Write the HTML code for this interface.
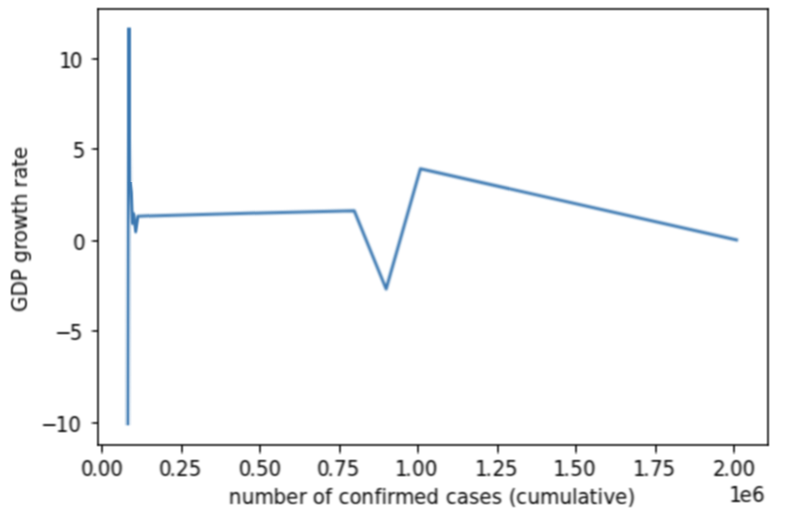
<!DOCTYPE html>
<html lang="en">
<head>
<meta charset="utf-8">
<title>GDP growth rate vs number of confirmed cases (cumulative)</title>
<style>
html,body{margin:0;padding:0;background:#fff;}
body{width:787px;height:524px;overflow:hidden;}
svg{display:block;}
text{font-family:"DejaVu Sans","Liberation Sans",sans-serif;font-size:22px;fill:#000000;}
</style>
</head>
<body>
<svg width="787" height="524" viewBox="0 0 787 524">
<defs>
<filter id="soft" filterUnits="userSpaceOnUse" x="0" y="0" width="787" height="524" color-interpolation-filters="sRGB"><feConvolveMatrix order="3" kernelMatrix="1 2 1 2 4 2 1 2 1" divisor="16" edgeMode="duplicate" preserveAlpha="false"/></filter>
<filter id="softline" filterUnits="userSpaceOnUse" x="0" y="0" width="787" height="524" color-interpolation-filters="sRGB"><feConvolveMatrix order="5" kernelMatrix="1 4 6 4 1 4 16 24 16 4 6 24 36 24 6 4 16 24 16 4 1 4 6 4 1" divisor="256" edgeMode="duplicate" preserveAlpha="false"/></filter>
<filter id="softv" filterUnits="userSpaceOnUse" x="0" y="0" width="787" height="524" color-interpolation-filters="sRGB"><feConvolveMatrix order="3 5" kernelMatrix="1 2 1 4 8 4 6 12 6 4 8 4 1 2 1" divisor="64" edgeMode="duplicate" preserveAlpha="false"/></filter>
<filter id="softtext" filterUnits="userSpaceOnUse" x="0" y="0" width="787" height="524" color-interpolation-filters="sRGB"><feConvolveMatrix order="5 3" kernelMatrix="1 4 6 4 1 2 8 12 8 2 1 4 6 4 1" divisor="64" edgeMode="duplicate" preserveAlpha="false"/></filter>
<filter id="softtextr" filterUnits="userSpaceOnUse" x="0" y="0" width="787" height="524" color-interpolation-filters="sRGB"><feConvolveMatrix order="3 5" kernelMatrix="1 2 1 4 8 4 6 12 6 4 8 4 1 2 1" divisor="64" edgeMode="duplicate" preserveAlpha="false"/></filter>
<clipPath id="axclip"><rect x="98" y="9" width="670" height="436"/></clipPath>
</defs>
<rect x="0" y="0" width="787" height="524" fill="#ffffff"/>
<clipPath id="lclip"><rect x="0" y="0" width="149" height="524"/></clipPath>
<clipPath id="rclip"><rect x="149" y="0" width="638" height="524"/></clipPath>
<g id="line" fill="none" stroke="#3b78b1" stroke-width="3" stroke-linejoin="round" stroke-linecap="square">
<linearGradient id="covl" gradientUnits="userSpaceOnUse" x1="0" y1="130" x2="0" y2="425"><stop offset="0" stop-color="#3b78b1" stop-opacity="0"/><stop offset="1" stop-color="#3b78b1" stop-opacity="0.33"/></linearGradient>
<linearGradient id="covr" gradientUnits="userSpaceOnUse" x1="0" y1="192" x2="0" y2="425"><stop offset="0.0000" stop-color="#3b78b1" stop-opacity="1"/><stop offset="0.0601" stop-color="#3b78b1" stop-opacity="0.64"/><stop offset="0.1030" stop-color="#3b78b1" stop-opacity="0.49"/><stop offset="0.1373" stop-color="#3b78b1" stop-opacity="0.4"/><stop offset="1.0000" stop-color="#3b78b1" stop-opacity="0.17"/></linearGradient>
<linearGradient id="covr2" gradientUnits="userSpaceOnUse" x1="0" y1="138" x2="0" y2="182"><stop offset="0" stop-color="#3b78b1" stop-opacity="0"/><stop offset="1" stop-color="#3b78b1" stop-opacity="0.15"/></linearGradient>
<clipPath id="cclip"><path clip-rule="evenodd" d="M0 0H149V524H0Z M0 0H133V182H0Z"/></clipPath>
<g id="spike" filter="url(#soft)" stroke="none">
<rect x="127" y="27.6" width="2" height="397.7" fill="#3b78b1"/>
<rect x="129" y="27.6" width="2" height="164.4" fill="#3b78b1"/>
<rect x="125" y="130" width="2" height="295.3" fill="url(#covl)"/>
<rect x="129" y="192" width="2" height="233.3" fill="url(#covr)"/>
<rect x="131" y="138" width="2" height="44" fill="url(#covr2)"/>
</g>
<polyline filter="url(#softv)" points="128.78,28.51 129.73,177.90 131.38,192.48 132.39,223.45 133.78,213.79 135.70,231.83 137.95,216.16 151.95,215.81" clip-path="url(#cclip)" stroke-linecap="butt"/>
<polyline filter="url(#softline)" points="145.95,215.96 354.19,210.69 386.14,289.03 420.37,168.79 736.56,239.84" clip-path="url(#rclip)"/>
</g>
<g id="frame" filter="url(#soft)">
<g id="spines" stroke="#000000" stroke-opacity="0.8" stroke-width="2" stroke-linecap="square">
<line x1="98" y1="9" x2="98" y2="445"/><line x1="768" y1="9" x2="768" y2="445"/><line x1="98" y1="445" x2="768" y2="445"/><line x1="98" y1="9" x2="768" y2="9"/>
</g>
<g id="xticks" fill="#000000">
<rect x="101" y="445" width="2" height="7" fill-opacity="0.8"/><rect x="101" y="452" width="2" height="2" fill-opacity="0.4"/>
<rect x="181" y="445" width="2" height="7" fill-opacity="0.8"/><rect x="181" y="452" width="2" height="2" fill-opacity="0.4"/>
<rect x="259" y="445" width="2" height="7" fill-opacity="0.8"/><rect x="259" y="452" width="2" height="2" fill-opacity="0.4"/>
<rect x="339" y="445" width="2" height="7" fill-opacity="0.8"/><rect x="339" y="452" width="2" height="2" fill-opacity="0.4"/>
<rect x="417" y="445" width="2" height="7" fill-opacity="0.8"/><rect x="417" y="452" width="2" height="2" fill-opacity="0.4"/>
<rect x="497" y="445" width="2" height="7" fill-opacity="0.8"/><rect x="497" y="452" width="2" height="2" fill-opacity="0.4"/>
<rect x="575" y="445" width="2" height="7" fill-opacity="0.8"/><rect x="575" y="452" width="2" height="2" fill-opacity="0.4"/>
<rect x="655" y="445" width="2" height="7" fill-opacity="0.8"/><rect x="655" y="452" width="2" height="2" fill-opacity="0.4"/>
<rect x="733" y="445" width="2" height="7" fill-opacity="0.8"/><rect x="733" y="452" width="2" height="2" fill-opacity="0.4"/>
</g>
<g id="yticks" fill="#000000">
<rect x="93" y="58" width="5" height="2" fill-opacity="0.8"/><rect x="91" y="58" width="2" height="2" fill-opacity="0.4"/>
<rect x="93" y="148" width="5" height="2" fill-opacity="0.8"/><rect x="91" y="148" width="2" height="2" fill-opacity="0.4"/>
<rect x="93" y="240" width="5" height="2" fill-opacity="0.8"/><rect x="91" y="240" width="2" height="2" fill-opacity="0.4"/>
<rect x="93" y="330" width="5" height="2" fill-opacity="0.8"/><rect x="91" y="330" width="2" height="2" fill-opacity="0.4"/>
<rect x="93" y="422" width="5" height="2" fill-opacity="0.8"/><rect x="91" y="422" width="2" height="2" fill-opacity="0.4"/>
</g>
</g>
<g id="labels" filter="url(#softtext)">
<g id="xticklabels">
<text transform="scale(0.909,1)" x="89.11 100.66 107.54 121.29" y="476">0.00</text>
<text transform="scale(0.909,1)" x="174.92 186.47 193.62 207.65" y="476">0.25</text>
<text transform="scale(0.909,1)" x="262.79 274.61 281.76 295.51" y="476">0.50</text>
<text transform="scale(0.909,1)" x="348.73 360.29 367.44 381.46" y="476">0.75</text>
<text transform="scale(0.909,1)" x="434.68 445.96 453.38 467.41" y="476">1.00</text>
<text transform="scale(0.909,1)" x="522.68 533.97 541.67 555.42" y="476">1.25</text>
<text transform="scale(0.909,1)" x="608.64 619.91 627.34 641.36" y="476">1.50</text>
<text transform="scale(0.909,1)" x="696.5 707.79 715.2 728.95" y="476">1.75</text>
<text transform="scale(0.909,1)" x="784.51 795.8 803.21 816.96" y="476">2.00</text>
</g>
<g id="yticklabels">
<text transform="scale(0.909,1)" x="65.18 76.73" y="68">10</text>
<text transform="scale(0.909,1)" x="80.03" y="158">5</text>
<text transform="scale(0.909,1)" x="80.31" y="250">0</text>
<text transform="scale(0.909,1)" x="60.51 76.73" y="340">−5</text>
<text transform="scale(0.909,1)" x="45.1 61.33 75.08" y="432">−10</text>
</g>
<text transform="scale(0.909,1)" x="802.26 813.53 827.28" y="502">1e6</text>
<text transform="scale(0.909,1)" x="251.79 266.09 280.11 301.01 314.76 328.8 337.6 344.2 357.67 365.65 372.52 384.36 397.56 411.86 419.56 425.87 434.68 455.58 469.06 483.63 490.52 502.62 516.08 527.37 541.12 552.67 559.82 567.79 580.18 593.93 615.38 629.39 635.45 648.65 657.45 663.78 676.7 690.19" y="504">number of confirmed cases (cumulative)</text>
</g>
<g id="ylabelgroup" filter="url(#softtextr)">
<text transform="translate(26.5,310) rotate(-90) scale(0.909,1)" x="-2.2 14.85 31.63 45.1 51.98 66.28 74.26 87.73 105.61 114.14 128.16 134.76 144.11 157.32 165.84" y="0">GDP growth rate</text>
</g>
</svg>
</body>
</html>
